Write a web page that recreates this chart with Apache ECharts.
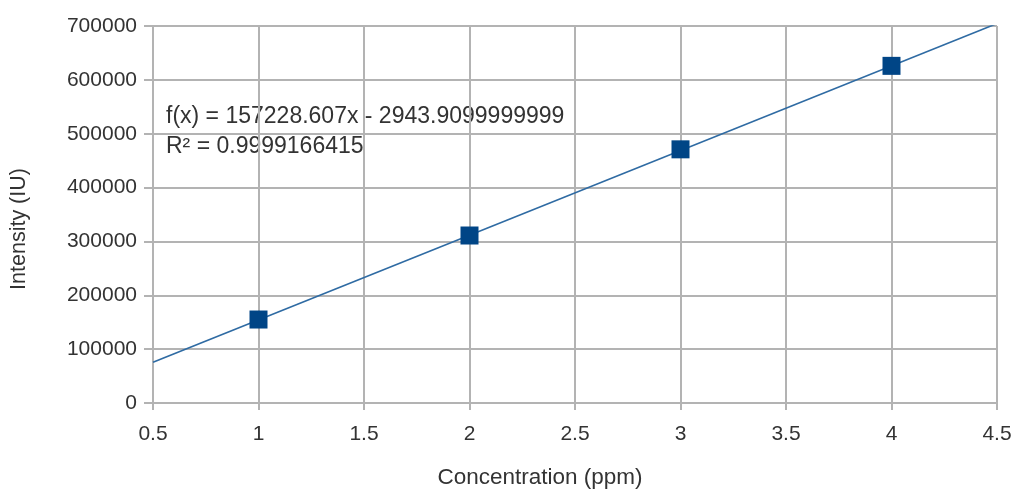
<!DOCTYPE html>
<html><head><meta charset="utf-8">
<script src="https://cdn.jsdelivr.net/npm/echarts@6/dist/echarts.min.js"></script>
<style>html,body{margin:0;padding:0;background:#fff}#c{width:1016px;height:490px}</style>
</head><body><div id="c"></div>
<script>
const concentrations = [1, 2, 3, 4];
const intensities = [155000, 311000, 471000, 626000];
const trendX = [0.5, 4.5];
const trendY = [75670, 704585];
const equationText = 'f(x) = 157228.607x - 2943.9099999999';
const r2Text = 'R² = 0.9999166415';
const xTitle = 'Concentration (ppm)';
const yTitle = 'Intensity (IU)';
const xTicks = ['0.5','1','1.5','2','2.5','3','3.5','4','4.5'];

const font = 'Liberation Sans, Arial, sans-serif';
const chart = echarts.init(document.getElementById('c'));
chart.setOption({
  animation: false,
  backgroundColor: '#fff',
  grid: {left: 153, right: 19, top: 26, bottom: 87, containLabel: false},
  xAxis: {
    type: 'value', min: 0.5, max: 4.5, interval: 0.5,
    axisLine: {show: true, onZero: false, lineStyle: {color: '#b3b3b3', width: 2}},
    axisTick: {show: true, length: 7, lineStyle: {color: '#b3b3b3', width: 2}},
    axisLabel: {fontFamily: font, fontSize: 21, color: '#333', margin: 21,
      formatter: v => xTicks.find(t => Math.abs(parseFloat(t) - v) < 1e-9) || ''},
    splitLine: {show: true, lineStyle: {color: '#b3b3b3', width: 2}}
  },
  yAxis: {
    type: 'value', min: 0, max: 700000, interval: 100000,
    axisLine: {show: true, lineStyle: {color: '#b3b3b3', width: 2}},
    axisTick: {show: true, length: 9, lineStyle: {color: '#b3b3b3', width: 2}},
    axisLabel: {fontFamily: font, fontSize: 21, color: '#333', margin: 16,
      formatter: v => String(v)},
    splitLine: {show: true, lineStyle: {color: '#b3b3b3', width: 2}}
  },
  series: [
    {
      type: 'line', data: trendX.map((x, i) => [x, trendY[i]]),
      showSymbol: false, symbol: 'none', clip: true,
      lineStyle: {color: '#2f6ba3', width: 1.6}, silent: true, z: 2
    },
    {
      type: 'scatter', data: concentrations.map((x, i) => [x, intensities[i]]),
      symbol: 'rect', symbolSize: 18,
      itemStyle: {color: '#004586', opacity: 1}, z: 3
    }
  ],
  graphic: [
    {type: 'text', left: 166, top: 105, style: {text: equationText, font: '23px ' + font, fill: '#333'}},
    {type: 'text', left: 166, top: 135, style: {text: r2Text, font: '23px ' + font, fill: '#333'}},
    {type: 'text', x: 540, y: 478, style: {text: xTitle, font: '22.5px ' + font, fill: '#333', align: 'center', verticalAlign: 'middle'}},
    {type: 'text', x: 19, y: 229, rotation: Math.PI / 2, style: {text: yTitle, font: '21.5px ' + font, fill: '#333', align: 'center', verticalAlign: 'middle'}}
  ]
});
</script></body></html>
